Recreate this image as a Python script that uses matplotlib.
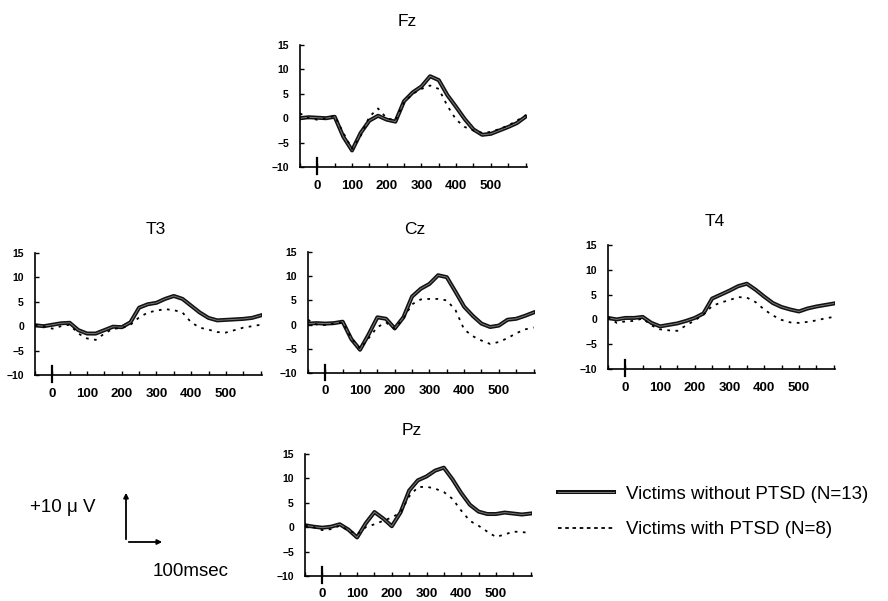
import numpy as np
import matplotlib
matplotlib.use("Agg")
import matplotlib.pyplot as plt
import matplotlib.patheffects as pe
from matplotlib.ticker import MultipleLocator
from matplotlib.patches import FancyArrowPatch

plt.rcParams['font.family'] = ['Liberation Sans', 'DejaVu Sans']

# time points (msec)
t = list(range(-50, 601, 25))

# amplitudes (uV): without PTSD (solid) / with PTSD (dotted)
fz_no = [0.0, 0.2, 0.1, 0.0, 0.3, -3.8, -6.6, -3.0, -0.5, 0.5, -0.3, -0.7, 3.5, 5.3, 6.5,
         8.6, 7.8, 4.7, 2.3, -0.2, -2.3, -3.4, -3.2, -2.5, -1.8, -1.0, 0.3]
fz_pt = [1.0, 0.0, -0.3, 0.0, 0.5, -3.0, -6.3, -3.6, 0.3, 2.0, 0.0, -0.5, 3.3, 5.0, 6.0,
         6.7, 6.0, 2.5, -0.3, -1.8, -2.5, -3.0, -2.8, -2.2, -1.5, -0.5, 0.6]
t3_no = [0.2, 0.0, 0.3, 0.6, 0.7, -0.8, -1.5, -1.5, -0.8, -0.1, -0.2, 0.8, 3.8, 4.5, 4.8,
         5.6, 6.2, 5.6, 4.2, 2.8, 1.7, 1.2, 1.3, 1.4, 1.5, 1.7, 2.2]
t3_pt = [0.3, 0.0, -0.5, 0.0, 0.3, -1.5, -2.5, -2.8, -1.5, -0.5, -0.4, 0.3, 1.8, 2.8, 3.2,
         3.5, 3.3, 2.8, 0.8, -0.3, -0.7, -1.2, -1.3, -0.8, -0.3, 0.0, 0.3]
cz_no = [0.2, 0.3, 0.2, 0.3, 0.6, -3.0, -5.2, -2.0, 1.5, 1.2, -0.8, 1.5, 5.8, 7.4, 8.4,
         10.2, 9.8, 6.8, 3.7, 1.8, 0.2, -0.5, -0.2, 1.0, 1.2, 1.8, 2.5]
cz_pt = [1.0, 0.0, -0.1, 0.2, 0.5, -2.8, -5.0, -2.8, -0.5, 0.4, -0.8, 1.3, 4.2, 5.2, 5.3,
         5.3, 5.0, 3.0, -1.0, -2.4, -3.3, -4.0, -3.6, -2.8, -1.8, -1.0, -0.6]
t4_no = [0.3, 0.0, 0.3, 0.3, 0.5, -0.7, -1.4, -1.1, -0.8, -0.3, 0.3, 1.2, 4.2, 5.0, 5.8,
         6.7, 7.2, 6.0, 4.6, 3.3, 2.5, 2.0, 1.6, 2.2, 2.6, 2.9, 3.2]
t4_pt = [0.5, -0.7, -0.4, -0.3, 0.2, -1.2, -2.0, -2.2, -2.3, -1.2, -0.2, 1.0, 2.7, 3.4, 3.9,
         4.5, 4.4, 3.5, 2.0, 0.8, -0.1, -0.6, -0.7, -0.5, -0.2, 0.2, 0.5]
pz_no = [0.4, 0.1, -0.1, 0.1, 0.6, -0.5, -2.1, 0.8, 3.1, 1.8, 0.2, 3.0, 7.5, 9.6, 10.4,
         11.6, 12.2, 9.8, 7.0, 4.6, 3.2, 2.7, 2.7, 3.0, 2.8, 2.6, 2.8]
pz_pt = [0.4, 0.0, -0.6, -0.4, 0.3, -0.6, -1.5, 0.0, 0.6, 1.3, 2.0, 3.0, 6.3, 8.2, 8.3,
         7.9, 7.2, 5.8, 3.4, 1.3, 0.3, -0.9, -2.0, -1.5, -0.9, -1.0, -1.2]

panels = [
    ("Fz", fz_no, fz_pt, [0.3378, 0.7221, 0.2560, 0.2030], 0.47),
    ("T3", t3_no, t3_pt, [0.0394, 0.3760, 0.2560, 0.2030], 0.53),
    ("Cz", cz_no, cz_pt, [0.3468, 0.3794, 0.2560, 0.2013], 0.47),
    ("T4", t4_no, t4_pt, [0.6847, 0.3860, 0.2560, 0.2063], 0.47),
    ("Pz", pz_no, pz_pt, [0.3435, 0.0416, 0.2560, 0.2030], 0.47),
]

solid_fx = [pe.Stroke(linewidth=2.9, foreground='#111111'), pe.Normal()]

fig = plt.figure(figsize=(8.88, 6.01), dpi=100)

for name, no, pt, rect, tx in panels:
    ax = fig.add_axes(rect)
    ax.plot(t, no, color='#7a7a7a', lw=0.7, solid_joinstyle='round', path_effects=solid_fx)
    ax.plot(t, pt, color='black', lw=1.3, linestyle=(0, (1.5, 3)))
    ax.set_xlim(-50, 605)
    ax.set_ylim(-10, 15)
    ax.spines['top'].set_visible(False)
    ax.spines['right'].set_visible(False)
    ax.spines['left'].set_linewidth(1.2)
    ax.spines['bottom'].set_linewidth(1.2)
    ax.set_yticks([-10, -5, 0, 5, 10, 15])
    ax.set_xticks([0, 100, 200, 300, 400, 500])
    ax.xaxis.set_minor_locator(MultipleLocator(50))
    ax.tick_params(axis='y', direction='in', length=3, width=1, labelsize=7.5, pad=8)
    ax.tick_params(axis='x', which='both', direction='in', length=3, width=1, labelsize=9.5, pad=9)
    for lab in ax.get_xticklabels() + ax.get_yticklabels():
        lab.set_fontweight('bold')
    ax.axvline(0, ymin=-0.06, ymax=0.07, color='black', lw=1.6, clip_on=False)
    ax.text(tx, 1.19, name, transform=ax.transAxes, ha='center', va='center', fontsize=12.5)

# legend
h1 = plt.Line2D([], [], color='#7a7a7a', lw=0.7, path_effects=solid_fx)
h2 = plt.Line2D([], [], color='black', lw=1.3, linestyle=(0, (2, 2)))
fig.legend([h1, h2], ["Victims without PTSD (N=13)", "Victims with PTSD (N=8)"],
           loc='center left', bbox_to_anchor=(558 / 888, 1 - 512 / 601), frameon=False,
           fontsize=13.5, handlelength=3.0, handletextpad=0.6, labelspacing=1.0,
           borderpad=0, borderaxespad=0)

# scale bar
x0, y0 = 126 / 888, 1 - 542 / 601
fig.add_artist(FancyArrowPatch((x0, y0), (x0, 1 - 490 / 601), transform=fig.transFigure,
                               arrowstyle='-|>', mutation_scale=7, lw=1.3, color='black'))
fig.add_artist(FancyArrowPatch((x0, y0), (165 / 888, y0), transform=fig.transFigure,
                               arrowstyle='-|>', mutation_scale=7, lw=1.3, color='black'))
fig.text(63 / 888, 1 - 507 / 601, "+10 μ V", ha='center', va='center', fontsize=13.5)
fig.text(191 / 888, 1 - 572 / 601, "100msec", ha='center', va='center', fontsize=13.5)

fig.savefig("out.png", dpi=100)
